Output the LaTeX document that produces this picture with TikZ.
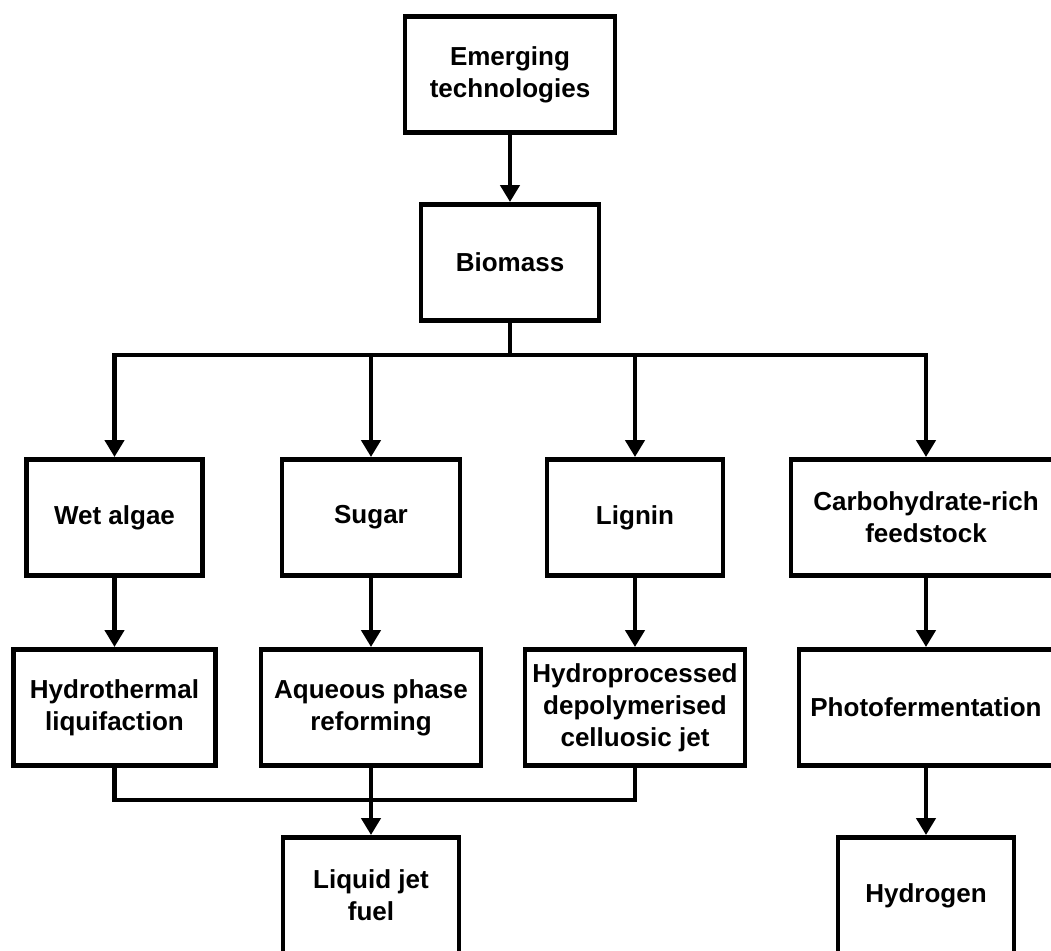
\documentclass[tikz,border=0pt]{standalone}
\usepackage{fontspec}
\setmainfont{Liberation Sans}
\usetikzlibrary{arrows.meta}

\begin{document}
\begin{tikzpicture}[x=0.025cm, y=-0.025cm]
			\tikzset{
				boxnode/.style={
						shape=rectangle,
						draw=black,
						line width=3.2pt,
						fill=white,
						align=center,
						inner sep=0pt,
						minimum height=2.91cm,
						font=\fontsize{18.5}{22.8}\selectfont\bfseries
					},
				link/.style={line width=3.2pt},
				arrowlink/.style={link, -{Triangle[length=0.42cm, width=0.47cm]}}
			}
			\useasboundingbox (0,0) rectangle (1051,951);
			\clip (0,0) rectangle (1051,951);

			\node[boxnode, minimum width=5.24cm] (emerg) at (510,74.5) {Emerging\\technologies};
			\node[boxnode, minimum width=4.44cm] (bio) at (510,262.5) {Biomass};

			\node[boxnode, minimum width=4.39cm] (wet) at (114.5,517.5) {Wet algae};
			\node[boxnode, minimum width=4.44cm] (sugar) at (371,517.5) {Sugar};
			\node[boxnode, minimum width=4.39cm] (lignin) at (635,517.5) {Lignin};
			\node[boxnode, minimum width=6.74cm] (carb) at (926,517.5) {Carbohydrate-rich\\feedstock};

			\node[boxnode, minimum width=5.04cm] (htl) at (114.5,707.5) {Hydrothermal\\liquifaction};
			\node[boxnode, minimum width=5.51cm] (apr) at (371,707.5) {Aqueous phase\\reforming};
			\node[boxnode, minimum width=5.51cm] (hdcj) at (635,707.5) {Hydroprocessed\\depolymerised\\celluosic jet};
			\node[boxnode, minimum width=6.34cm] (photo) at (926,707.5) {Photofermentation};

			\node[boxnode, minimum width=4.39cm] (jet) at (371,895.5) {Liquid jet\\fuel};
			\node[boxnode, minimum width=4.39cm] (hydrogen) at (926,895.5) {Hydrogen};

			\coordinate (split) at (510,355);
			\coordinate (merge) at (371,800);

			\draw[arrowlink] (emerg) -- (bio);
			\draw[link] (bio) -- (split);
			\draw[arrowlink] (split) -| (wet);
			\draw[arrowlink] (split) -| (sugar);
			\draw[arrowlink] (split) -| (lignin);
			\draw[arrowlink] (split) -| (carb);

			\draw[arrowlink] (wet) -- (htl);
			\draw[arrowlink] (sugar) -- (apr);
			\draw[arrowlink] (lignin) -- (hdcj);
			\draw[arrowlink] (carb) -- (photo);
			\draw[arrowlink] (photo) -- (hydrogen);

			\draw[link] (htl.south) |- (merge);
			\draw[link] (hdcj.south) |- (merge);
			\draw[link] (apr) -- (merge);
			\draw[arrowlink] (merge) -- (jet);
		\end{tikzpicture}
\end{document}
